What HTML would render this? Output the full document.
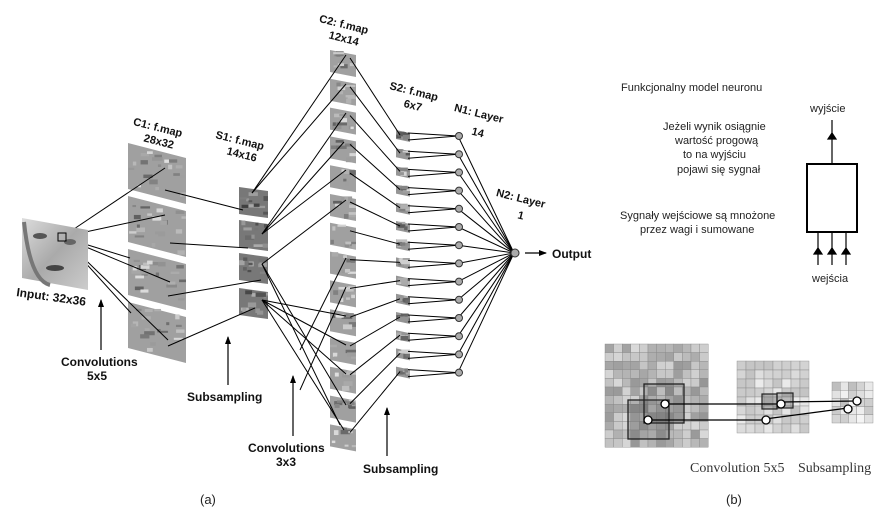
<!DOCTYPE html>
<html><head><meta charset="utf-8"><style>
html,body{margin:0;padding:0;background:#fff;width:886px;height:520px;overflow:hidden}
svg{display:block}
.b{font-family:"Liberation Sans",sans-serif;font-weight:bold;font-size:12px;fill:#111}
.l{font-family:"Liberation Sans",sans-serif;font-weight:bold;font-size:11px;fill:#111;text-anchor:middle}
.c{font-family:"Liberation Sans","DejaVu Sans",sans-serif;font-size:11px;fill:#222}
.s{font-family:"Liberation Serif",serif;font-size:14px;fill:#333}
</style></head><body>
<svg id="g" width="886" height="520" xmlns="http://www.w3.org/2000/svg">
<defs>
<linearGradient id="fg" x1="0" y1="0" x2="1" y2="1"><stop offset="0" stop-color="#ddd"/><stop offset="0.5" stop-color="#aaa"/><stop offset="1" stop-color="#ccc"/></linearGradient>
<marker id="ah" markerWidth="8" markerHeight="8" refX="7" refY="4" orient="auto" markerUnits="userSpaceOnUse"><path d="M0,1 L8,4 L0,7 z" fill="#000"/></marker>
</defs>
<g id="maps"></g>
<g id="lines" stroke="#000" stroke-width="1" fill="none"></g>
<g id="nodes"></g>

<!-- face -->
<polygon points="22,218 88,230 88,290 22,278" fill="url(#fg)"/>
<ellipse cx="40" cy="236" rx="7" ry="3" fill="#555"/>
<ellipse cx="70" cy="242" rx="6" ry="3" fill="#666"/>
<ellipse cx="55" cy="268" rx="9" ry="3" fill="#444"/>
<path d="M24,222 Q30,280 50,285" stroke="#777" stroke-width="4" fill="none"/>
<rect x="58" y="233" width="8" height="8" fill="none" stroke="#000"/>

<text class="b" transform="translate(16,296) rotate(8)">Input: 32x36</text>
<text class="l" transform="translate(157,131) rotate(14)">C1: f.map</text>
<text class="l" transform="translate(158,145) rotate(14)">28x32</text>
<text class="l" transform="translate(239,144) rotate(14)">S1: f.map</text>
<text class="l" transform="translate(241,158) rotate(14)">14x16</text>
<text class="l" transform="translate(343,28) rotate(14)">C2: f.map</text>
<text class="l" transform="translate(343,42) rotate(14)">12x14</text>
<text class="l" transform="translate(413,95) rotate(14)">S2: f.map</text>
<text class="l" transform="translate(412,109) rotate(14)">6x7</text>
<text class="l" transform="translate(478,117) rotate(14)">N1: Layer</text>
<text class="l" transform="translate(477,136) rotate(14)">14</text>
<text class="l" transform="translate(520,202) rotate(14)">N2: Layer</text>
<text class="l" transform="translate(520,219) rotate(14)">1</text>

<text class="b" x="61" y="366">Convolutions</text>
<text class="b" x="87" y="380">5x5</text>
<text class="b" x="187" y="401">Subsampling</text>
<text class="b" x="248" y="452">Convolutions</text>
<text class="b" x="276" y="466">3x3</text>
<text class="b" x="363" y="473">Subsampling</text>
<text class="b" x="552" y="258">Output</text>

<g stroke="#000" stroke-width="1.2">
<line x1="101" y1="350" x2="101" y2="300" marker-end="url(#ah)"/>
<line x1="228" y1="385" x2="228" y2="337" marker-end="url(#ah)"/>
<line x1="293" y1="436" x2="293" y2="376" marker-end="url(#ah)"/>
<line x1="387" y1="456" x2="387" y2="408" marker-end="url(#ah)"/>
<line x1="525" y1="253" x2="546" y2="253" marker-end="url(#ah)"/>
</g>

<text x="200" y="504" font-family="Liberation Sans,sans-serif" font-size="13" fill="#222">(a)</text>
<text x="726" y="504" font-family="Liberation Sans,sans-serif" font-size="13" fill="#222">(b)</text>

<!-- neuron model -->
<text class="c" x="621" y="91">Funkcjonalny model neuronu</text>
<text class="c" x="810" y="112">wyjście</text>
<text class="c" x="663" y="130">Jeżeli wynik osiągnie</text>
<text class="c" x="675" y="144">wartość progową</text>
<text class="c" x="683" y="158">to na wyjściu</text>
<text class="c" x="677" y="173">pojawi się sygnał</text>
<text class="c" x="620" y="219">Sygnały wejściowe są mnożone</text>
<text class="c" x="640" y="233">przez wagi i sumowane</text>
<text class="c" x="812" y="282">wejścia</text>
<rect x="807" y="164" width="50" height="68" fill="none" stroke="#000" stroke-width="2"/>
<g stroke="#000" stroke-width="1.2" fill="#000">
<line x1="832" y1="164" x2="832" y2="120"/><polygon points="828,139 836,139 832,133"/>
<line x1="818" y1="265" x2="818" y2="232"/><polygon points="814,254 822,254 818,248"/>
<line x1="832" y1="265" x2="832" y2="232"/><polygon points="828,254 836,254 832,248"/>
<line x1="846" y1="265" x2="846" y2="232"/><polygon points="842,254 850,254 846,248"/>
</g>

<g id="grids"></g>
<text class="s" x="690" y="472">Convolution 5x5</text>
<text class="s" x="798" y="472">Subsampling</text>
</svg>
<script>
var NS="http://www.w3.org/2000/svg";
function el(p,t,a){var e=document.createElementNS(NS,t);for(var k in a)e.setAttribute(k,a[k]);document.getElementById(p).appendChild(e);return e;}
var seed=7;function r(){seed=(seed*9301+49297)%233280;return seed/233280;}
function map(x0,x1,y0,d,h,base){
  el("maps","polygon",{points:x0+","+y0+" "+x1+","+(y0+d)+" "+x1+","+(y0+d+h)+" "+x0+","+(y0+h),fill:"rgb("+base+","+base+","+base+")"});
  var n=Math.max(3,Math.round((x1-x0)/6));
  for(var i=0;i<n*2;i++){var xx=x0+r()*(x1-x0-4),w=3+r()*8;var yy=y0+d*(xx-x0)/(x1-x0)+r()*(h-4);var c=Math.round(base+(r()-0.5)*130);c=Math.max(20,Math.min(245,c));
    el("maps","rect",{x:xx,y:yy,width:Math.min(w,x1-xx),height:2+r()*3,fill:"rgb("+c+","+c+","+c+")"});}
}
function L(a,b,c,d){el("lines","line",{x1:a,y1:b,x2:c,y2:d});}
var c1=[143,196,249,302];
c1.forEach(function(y){map(128,186,y,15,46,160);});
var s1=[187,220,253,288];
s1.forEach(function(y){map(239,268,y,4,27,120);});
var c2=[];for(var i=0;i<14;i++){c2.push(50+i*28.8);map(330,356,50+i*28.8,5,22,160);}
var s2=[];for(var i=0;i<14;i++){s2.push(130+i*18.2);map(396,410,130+i*18.2,3,9,150);}
var fx=62,fy=237;
L(fx,fy,165,168);L(fx,fy,165,215);L(fx,fy,170,282);L(fx,fy,168,340);
L(fx,fy,130,258);L(fx,fy,131,313);
L(165,190,243,210);L(170,243,248,248);L(168,296,261,280);L(168,346,255,308);
L(252,193,346,55);L(252,193,346,84);L(262,234,346,113);L(262,234,344,142);L(262,234,346,170);
L(262,264,346,200);L(262,264,346,405);L(262,300,344,430);L(262,264,340,425);
var n1=[];for(var i=0;i<14;i++)n1.push(136+i*18.2);
for(var i=0;i<14;i++){
  L(350,c2[i]+8,400,s2[i]+5);
  L(408,s2[i]+3,458,n1[i]);L(408,s2[i]+10,458,n1[i]);
  L(458,n1[i],514,253);
}
L(300,350,346,258);L(300,390,346,287);L(262,300,346,316);L(262,300,346,345);L(262,300,346,374);
for(var i=0;i<14;i++){el("nodes","circle",{cx:459,cy:n1[i],r:3.5,fill:"#aaa",stroke:"#333","stroke-width":1});}
el("nodes","circle",{cx:515,cy:253,r:4,fill:"#aaa",stroke:"#333","stroke-width":1});

function grid(x,y,n,cs,base,var_){
  for(var i=0;i<n;i++)for(var j=0;j<n;j++){var c=Math.round(base+(r()-0.5)*var_);c=Math.max(60,Math.min(250,c));
    el("grids","rect",{x:x+i*cs,y:y+j*cs,width:cs,height:cs,fill:"rgb("+c+","+c+","+c+")",stroke:"#888","stroke-width":0.4});}
}
grid(605,344,12,8.6,185,70);
grid(737,361,8,9,215,40);
grid(832,382,5,8.2,220,60);
el("grids","rect",{x:628,y:400,width:41,height:39,fill:"rgba(80,80,80,0.25)",stroke:"#222","stroke-width":1.3});
el("grids","rect",{x:644,y:384,width:40,height:39,fill:"rgba(80,80,80,0.2)",stroke:"#222","stroke-width":1.3});
el("grids","rect",{x:762,y:394,width:15,height:15,fill:"rgba(80,80,80,0.3)",stroke:"#222","stroke-width":1.2});
el("grids","rect",{x:777,y:393,width:16,height:15,fill:"rgba(80,80,80,0.3)",stroke:"#222","stroke-width":1.2});
var gl=[[665,404,780,404],[648,420,765,420],[781,402,857,401],[765,419,848,408]];
gl.forEach(function(a){el("grids","line",{x1:a[0],y1:a[1],x2:a[2],y2:a[3],stroke:"#000","stroke-width":1.2});});
[[665,404],[648,420],[781,404],[766,420],[857,401],[848,409]].forEach(function(p){el("grids","circle",{cx:p[0],cy:p[1],r:4,fill:"#fff",stroke:"#000","stroke-width":1.3});});
</script>
</body></html>
